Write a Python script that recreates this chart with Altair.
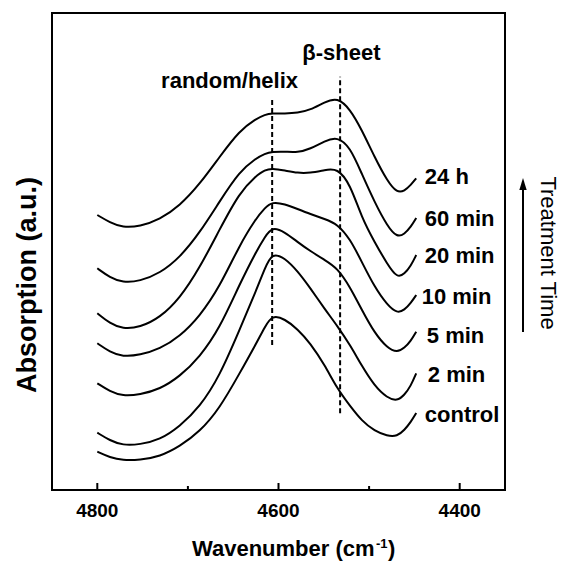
import altair as alt
import pandas as pd

# Wavenumber grid (cm^-1) shared by all spectra
wavenumber = [4800, 4786, 4772, 4753, 4731, 4709, 4687, 4665, 4643, 4625, 4615, 4607,
              4593, 4579, 4565, 4549, 4535, 4521, 4508, 4494, 4480, 4469, 4461, 4454, 4448]

# Offset absorption spectra (a.u.), top to bottom
abs_24h = [2.750, 2.675, 2.625, 2.636, 2.705, 2.842, 3.058, 3.332, 3.594, 3.710, 3.754, 3.767,
           3.765, 3.770, 3.800, 3.880, 3.927, 3.810, 3.600, 3.330, 3.090, 2.970, 2.990, 3.050, 3.117]
abs_60min = [2.217, 2.125, 2.075, 2.088, 2.167, 2.324, 2.572, 2.886, 3.187, 3.316, 3.364, 3.383,
             3.385, 3.375, 3.410, 3.490, 3.533, 3.430, 3.160, 2.880, 2.640, 2.525, 2.560, 2.630, 2.720]
abs_20min = [1.767, 1.665, 1.610, 1.626, 1.722, 1.915, 2.221, 2.606, 2.976, 3.140, 3.201, 3.215,
             3.195, 3.170, 3.170, 3.200, 3.220, 3.060, 2.720, 2.480, 2.260, 2.120, 2.160, 2.240, 2.350]
abs_10min = [1.467, 1.380, 1.333, 1.349, 1.410, 1.535, 1.736, 2.031, 2.449, 2.713, 2.821, 2.883,
             2.860, 2.810, 2.760, 2.710, 2.660, 2.510, 2.280, 2.030, 1.850, 1.767, 1.800, 1.870, 1.950]
abs_5min = [1.067, 0.985, 0.940, 0.954, 1.008, 1.135, 1.329, 1.617, 2.057, 2.379, 2.531, 2.633,
            2.580, 2.480, 2.390, 2.300, 2.220, 2.030, 1.800, 1.570, 1.420, 1.375, 1.420, 1.490, 1.583]
abs_2min = [0.573, 0.495, 0.447, 0.455, 0.501, 0.636, 0.829, 1.138, 1.601, 1.987, 2.219, 2.373,
            2.320, 2.190, 2.020, 1.810, 1.640, 1.450, 1.240, 1.040, 0.920, 0.890, 0.950, 1.040, 1.167]
abs_control = [0.383, 0.325, 0.296, 0.300, 0.334, 0.436, 0.582, 0.816, 1.166, 1.458, 1.633, 1.750,
               1.710, 1.610, 1.470, 1.250, 1.010, 0.840, 0.690, 0.590, 0.540, 0.537, 0.600, 0.680, 0.770]

series_names = ["24 h", "60 min", "20 min", "10 min", "5 min", "2 min", "control"]
series_values = [abs_24h, abs_60min, abs_20min, abs_10min, abs_5min, abs_2min, abs_control]

# Curve labels beside the right ends of the spectra
label_wn = [4438.5, 4438.5, 4438.5, 4442.0, 4436.3, 4435.2, 4438.5]
label_abs = [3.06, 2.64, 2.267, 1.86, 1.473, 1.08, 0.683]

# Band assignments (dashed markers)
band_names = ["random/helix", "β-sheet"]
band_wn = [4607, 4532]
band_low = [1.45, 0.767]
band_high = [3.90, 4.133]
band_text_wn = [4654, 4530.5]
band_text_abs = [4.02, 4.30]

major_ticks = [4800, 4600, 4400]
minor_ticks = [4700, 4500]

FONT = "Liberation Sans, Arial, sans-serif"
W, H = 453, 477

rows = []
for name, vals in zip(series_names, series_values):
    for wn, a in zip(wavenumber, vals):
        rows.append({"series": name, "wn": wn, "a": a})
spectra = pd.DataFrame(rows)

xscale = alt.Scale(domain=[4350, 4850], reverse=True, nice=False, zero=False)
yscale = alt.Scale(domain=[0, 4.77], nice=False, zero=False)
X = alt.X("wn:Q", scale=xscale, axis=None)
Y = alt.Y("a:Q", scale=yscale, axis=None)

lines = alt.Chart(spectra).mark_line(
    color="black", strokeWidth=2, interpolate="basis"
).encode(x=X, y=Y, detail="series:N")

bands = pd.DataFrame({"wn": band_wn, "a": band_low, "a2": band_high,
                      "name": band_names, "twn": band_text_wn, "ta": band_text_abs})
band_rules = alt.Chart(bands).mark_rule(
    color="black", strokeWidth=2, strokeDash=[5, 3]
).encode(x=X, y=Y, y2="a2:Q")
band_text = alt.Chart(bands).mark_text(
    font=FONT, fontSize=22, fontWeight="bold", align="center", baseline="alphabetic", color="black"
).encode(x=alt.X("twn:Q", scale=xscale, axis=None),
         y=alt.Y("ta:Q", scale=yscale, axis=None), text="name:N")

labels = pd.DataFrame({"wn": label_wn, "a": label_abs, "name": series_names})
series_text = alt.Chart(labels).mark_text(
    font=FONT, fontSize=22, fontWeight="bold", align="left", baseline="alphabetic", color="black"
).encode(x=X, y=Y, text="name:N")

ticks_major = pd.DataFrame({"wn": major_ticks, "lab": [str(t) for t in major_ticks]})
ticks_minor = pd.DataFrame({"wn": minor_ticks})
major_rules = alt.Chart(ticks_major).mark_rule(color="black", strokeWidth=2).encode(
    x=X, y=alt.value(H), y2=alt.value(H - 7))
minor_rules = alt.Chart(ticks_minor).mark_rule(color="black", strokeWidth=2).encode(
    x=X, y=alt.value(H), y2=alt.value(H - 4))
tick_text = alt.Chart(ticks_major).mark_text(
    font=FONT, fontSize=19, fontWeight="bold", align="center", baseline="alphabetic", color="black"
).encode(x=X, y=alt.value(H + 27), text="lab:N")

one = pd.DataFrame({"k": [0]})


def label(text, x, y, size=22, weight="bold", align="left", angle=0):
    return alt.Chart(one).mark_text(
        font=FONT, fontSize=size, fontWeight=weight, align=align,
        baseline="alphabetic", angle=angle, color="black"
    ).encode(x=alt.value(x), y=alt.value(y), text=alt.value(text))


x_title = label("Wavenumber (cm", 140, 543) + label("-1", 324, 535, size=13) + label(")", 336, 543)
y_title = label("Absorption (a.u.)", -16, 272, size=27, align="center", angle=270)
time_title = label("Treatment Time", 489, 240, size=22, weight="normal", align="center", angle=90)

arrow_shaft = alt.Chart(one).mark_rule(color="black", strokeWidth=2).encode(
    x=alt.value(471), y=alt.value(319), y2=alt.value(174))
arrow_head = alt.Chart(one).mark_point(
    shape="M0,-1L0.6,1L-0.6,1Z", filled=True, size=150, color="black", opacity=1, strokeWidth=0
).encode(x=alt.value(471), y=alt.value(171))

chart = alt.layer(
    lines, band_rules, band_text, series_text, major_rules, minor_rules, tick_text,
    x_title, y_title, time_title, arrow_shaft, arrow_head
).properties(
    width=W, height=H,
    padding={"left": 52, "top": 13, "right": 60, "bottom": 74},
    autosize=alt.AutoSizeParams(type="none"),
    background="white",
).configure_view(stroke="black", strokeWidth=2)

chart.save("out.html", embed_options={"renderer": "svg", "actions": False})
